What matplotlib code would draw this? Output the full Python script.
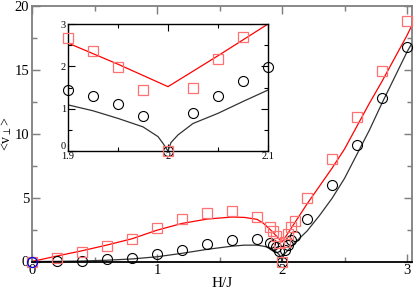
import numpy as np
import matplotlib
matplotlib.use("Agg")
import matplotlib.pyplot as plt

plt.rcParams['font.family'] = ['Liberation Serif', 'DejaVu Serif']
plt.rcParams['mathtext.fontset'] = 'stix'

# ---- data ----
# symbols (simulation)
x_pts = [0.0, 0.2, 0.4, 0.6, 0.8, 1.0, 1.2, 1.4, 1.6, 1.8,
         1.9, 1.925, 1.95, 1.975, 2.0, 2.025, 2.05, 2.075, 2.1,
         2.2, 2.4, 2.6, 2.8, 3.0]
circ_y = [0.0, 0.05, 0.07, 0.17, 0.27, 0.62, 0.93, 1.35, 1.66, 1.75,
          1.44, 1.31, 1.12, 0.82, 0.0, 0.89, 1.31, 1.66, 1.99,
          3.3, 5.98, 9.1, 12.8, 16.8]
sq_y = [0.0, 0.3, 0.77, 1.23, 1.8, 2.6, 3.3, 3.77, 3.95, 3.5,
        2.68, 2.37, 1.99, 1.44, 0.0, 1.5, 2.17, 2.7, 3.16,
        4.94, 8.06, 11.35, 14.9, 18.8]
blue_x = [0.0]
blue_y = [0.0]

# curves (theory)
xb = [0.0, 0.2, 0.4, 0.6, 0.8, 1.0, 1.2, 1.4, 1.6, 1.7, 1.8, 1.85,
      1.9, 1.925, 1.95, 1.975, 1.99, 1.995, 2.0, 2.003, 2.01, 2.025,
      2.05, 2.075, 2.1, 2.2, 2.3, 2.4, 2.5, 2.6, 2.7, 2.8, 2.9, 3.0, 3.04]
yb = [0.0, 0.01, 0.04, 0.1, 0.2, 0.37, 0.64, 0.95, 1.2, 1.28, 1.28, 1.2,
      1.09, 0.95, 0.77, 0.57, 0.34, 0.18, 0.0, 0.2, 0.38, 0.65,
      0.89, 1.17, 1.44, 2.38, 3.6, 4.94, 6.5, 8.4, 10.3, 12.4, 14.4, 16.4, 17.1]
xr = [0.0, 0.2, 0.4, 0.6, 0.8, 1.0, 1.2, 1.4, 1.6, 1.7, 1.8, 1.85,
      1.9, 1.95, 2.0, 2.05, 2.1, 2.2, 2.3, 2.4, 2.5, 2.6, 2.7, 2.8,
      2.9, 3.0, 3.04]
yr = [0.0, 0.43, 0.84, 1.29, 1.78, 2.45, 2.98, 3.32, 3.48, 3.45, 3.3, 3.0,
      2.55, 2.05, 1.52, 2.25, 3.0, 4.5, 5.9, 7.3, 8.8, 10.6, 12.4, 14.1,
      15.9, 17.7, 18.5]

W, H = 415, 290
fig = plt.figure(figsize=(W/100, H/100), dpi=100)

SQ_EDGE = '#ff7070'

def style_axes(ax, spine_col, lw, fs, maj, mino):
    for s in ax.spines.values():
        s.set_color(spine_col)
        s.set_linewidth(lw)
    ax.tick_params(which='both', direction='in', top=True, right=True,
                   colors=spine_col, labelcolor='black', labelsize=fs, width=lw*0.8)
    ax.tick_params(which='major', length=maj, pad=2)
    ax.tick_params(which='minor', length=mino)

# ---- main axes ----
ax = fig.add_axes([32/W, 1-261.5/H, 380/W, 255.5/H])
ax.plot(xb, yb, color='#333333', lw=0.9, zorder=2)
ax.plot(xr, yr, color='#ff0000', lw=0.9, zorder=2)
ax.plot(x_pts, circ_y, ls='none', marker='o', ms=7.2, mfc='none', mec='black',
        mew=0.8, clip_on=False, zorder=3)
ax.plot(x_pts, sq_y, ls='none', marker='s', ms=6.8, mfc='none', mec=SQ_EDGE,
        mew=0.9, clip_on=False, zorder=3)
ax.plot(blue_x, blue_y, ls='none', marker='o', ms=7.2, mfc='none', mec='blue',
        mew=0.8, clip_on=False, zorder=4)
ax.set_xlim(0, 3.04)
ax.set_ylim(0, 20)
ax.set_xticks([0, 1, 2, 3])
ax.set_xticks([0.5, 1.5, 2.5], minor=True)
ax.set_yticks([0, 5, 10, 15, 20])
ax.set_yticks([2.5, 7.5, 12.5, 17.5], minor=True)
style_axes(ax, '#7f7f7f', 1.3, 10.5, 6, 3.5)
ax.spines['bottom'].set_color('black')
ax.tick_params(axis='x', which='both', colors='#7f7f7f', labelcolor='black')
ax.set_xlabel('H/J', fontsize=11, labelpad=0)
ax.set_ylabel(r'<v$_\perp$>', fontsize=10, va='center')
ax.yaxis.set_label_coords(-0.066, 0.5)

# ---- inset ----
ins = fig.add_axes([68/W, 1-151/H, 200/W, 127/H])
ins.plot(xb, yb, color='#333333', lw=0.9, zorder=2)
ins.plot(xr, yr, color='#ff0000', lw=0.9, zorder=2)
xp = np.array(x_pts)
cy = np.array(circ_y)
sy = np.array(sq_y)
mc = (xp >= 1.899) & (xp <= 2.101) & (cy <= 3)
ms_ = (xp >= 1.899) & (xp <= 2.101) & (sy <= 3)
ins.plot(xp[mc], cy[mc], ls='none', marker='o', ms=7.2, mfc='none', mec='black',
         mew=0.8, clip_on=False, zorder=3)
ins.plot(xp[ms_], sy[ms_], ls='none', marker='s', ms=6.8, mfc='none', mec=SQ_EDGE,
         mew=0.9, clip_on=False, zorder=3)
ins.set_xlim(1.9, 2.1)
ins.set_ylim(0, 3)
ins.set_xticks([1.9, 2.0, 2.1])
ins.set_xticklabels(['1.9', '2', '2.1'])
ins.set_xticks([1.95, 2.05], minor=True)
ins.set_yticks([0, 1, 2, 3])
ins.set_yticks([0.5, 1.5, 2.5], minor=True)
style_axes(ins, 'black', 1.0, 7.5, 5, 3)
ins.tick_params(axis='x', pad=0.5)
ins.tick_params(axis='y', pad=1.5)
for lbl in ins.get_yticklabels():
    if lbl.get_text() == '0':
        lbl.set_va('bottom')

fig.savefig('out.png', dpi=100)
